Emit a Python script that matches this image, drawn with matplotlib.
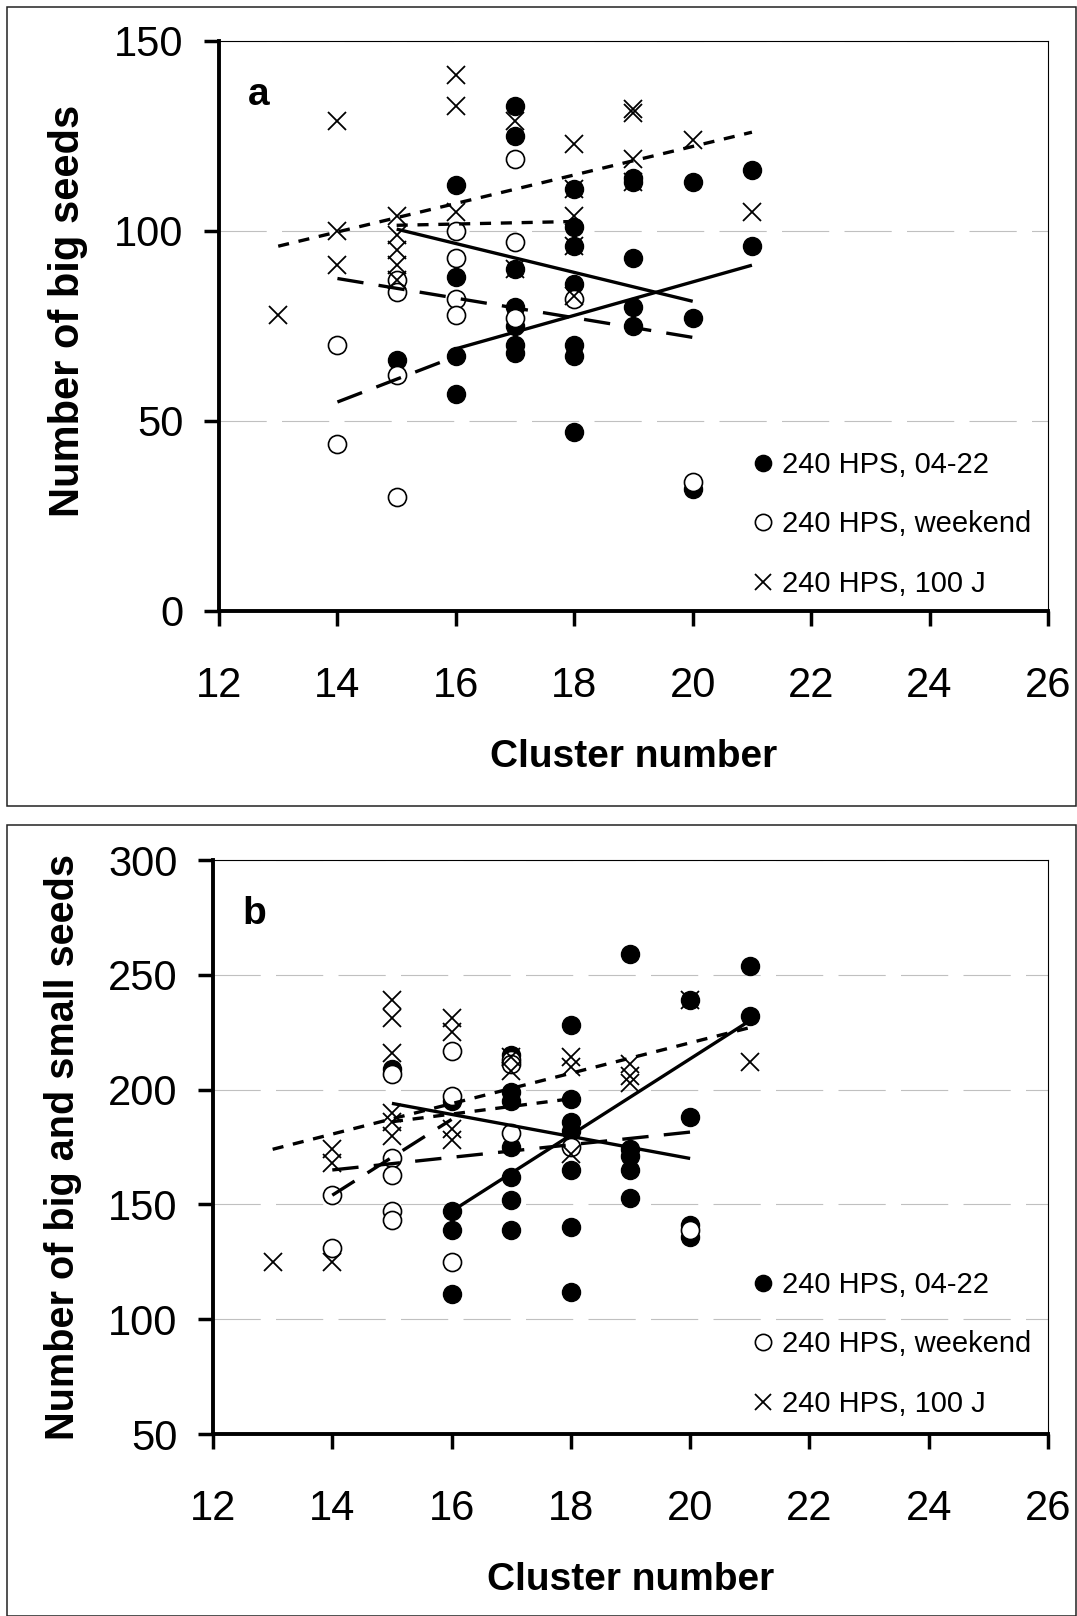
import matplotlib.pyplot as plt
from matplotlib.patches import Rectangle

plt.rcParams['font.family'] = ['Liberation Sans', 'DejaVu Sans']
plt.rcParams['lines.scale_dashes'] = False

series_labels = ['240 HPS, 04-22', '240 HPS, weekend', '240 HPS, 100 J']

# panel a - number of big seeds
a_x_0422 = [15, 16, 16, 16, 16, 17, 17, 17, 17, 17, 17, 17, 18, 18, 18, 18, 18, 18, 18,
            19, 19, 19, 19, 19, 20, 20, 20, 21, 21]
a_y_0422 = [66, 112, 88, 67, 57, 133, 125, 90, 80, 75, 70, 68, 111, 101, 96, 86, 70, 67, 47,
            114, 113, 93, 80, 75, 113, 77, 32, 116, 96]
a_x_weekend = [14, 14, 15, 15, 15, 15, 16, 16, 16, 16, 17, 17, 17, 18, 20]
a_y_weekend = [70, 44, 87, 84, 62, 30, 100, 93, 82, 78, 119, 97, 77, 82, 34]
a_x_100j = [13, 14, 14, 14, 15, 15, 15, 15, 15, 16, 16, 16, 17, 17, 18, 18, 18, 18, 18,
            19, 19, 19, 19, 20, 21]
a_y_100j = [78, 129, 100, 91, 104, 99, 95, 91, 87, 141, 133, 105, 129, 90, 123, 111, 104, 96, 83,
            132, 131, 119, 113, 124, 105]

# panel b - number of big and small seeds
b_x_0422 = [15, 16, 16, 16, 16, 17, 17, 17, 17, 17, 17, 17, 18, 18, 18, 18, 18, 18, 18,
            19, 19, 19, 19, 19, 20, 20, 20, 20, 21, 21]
b_y_0422 = [209, 195, 147, 139, 111, 215, 199, 195, 175, 162, 152, 139, 228, 196, 186, 182, 165, 140, 112,
            259, 174, 171, 165, 153, 239, 188, 141, 136, 254, 232]
b_x_weekend = [14, 14, 15, 15, 15, 15, 15, 16, 16, 16, 17, 17, 17, 18, 20]
b_y_weekend = [154, 131, 207, 170, 163, 147, 143, 217, 197, 125, 213, 211, 181, 175, 139]
b_x_100j = [13, 14, 14, 14, 15, 15, 15, 15, 15, 15, 16, 16, 16, 16, 17, 17, 18, 18, 18,
            19, 19, 19, 20, 21]
b_y_100j = [125, 174, 168, 125, 239, 231, 216, 190, 186, 180, 231, 225, 183, 178, 214, 208, 214, 210, 172,
            211, 206, 203, 239, 212]

# trend lines (start / end cluster, value at start / end)
trend_x0 = [16, 15, 14, 14, 13, 15]
trend_x1 = [21, 20, 20, 16, 21, 18]
a_trend_y0 = [69, 100.5, 87.5, 55, 96, 101.5]
a_trend_y1 = [91, 81.5, 72, 67, 126, 102.5]
b_trend_y0 = [147, 194, 165, 154, 174, 186]
b_trend_y1 = [230, 170, 181.5, 187, 227, 196]

long_dash = (0, (19, 11))
short_dash = (0, (8, 7))
trend_styles = ['-', '-', long_dash, long_dash, short_dash, short_dash]

W, H = 1077, 1616
fig = plt.figure(figsize=(W / 100, H / 100), dpi=100)

# outer frames of both panels
fig.add_artist(Rectangle((7 / W, 1 - 806 / H), (1075.5 - 7) / W, (806 - 7) / H,
                         transform=fig.transFigure, fill=False, lw=1.1, ec='#222222'))
fig.add_artist(Rectangle((7 / W, 0.5 / H), (1075.5 - 7) / W, (1615.5 - 825) / H,
                         transform=fig.transFigure, fill=False, lw=1.1, ec='#222222'))

ax_a = fig.add_axes([219 / W, 1 - 611 / H, (1048 - 219) / W, (611 - 41) / H])
ax_b = fig.add_axes([213 / W, 1 - 1434 / H, (1048 - 213) / W, (1434 - 860) / H])


def draw_panel(ax, xf, yf, xw, yw, xc, yc, ty0, ty1):
    h1, = ax.plot(xf, yf, 'o', ms=13, color='black', ls='none', zorder=3)
    h2, = ax.plot(xw, yw, 'o', ms=13, mfc='white', mec='black', mew=1.2, ls='none', zorder=4)
    h3, = ax.plot(xc, yc, 'x', ms=13, mec='black', mew=1.3, ls='none', zorder=5)
    for x0, x1, y0, y1, st in zip(trend_x0, trend_x1, ty0, ty1, trend_styles):
        ax.plot([x0, x1], [y0, y1], color='black', lw=2.4, ls=st, zorder=6,
                solid_capstyle='butt', dash_capstyle='butt')
    return [h1, h2, h3]


def style_panel(ax, handles, ylim, ylabel, ylabel_size, ylabel_y, tag, leg_anchor):
    ax.set_xlim(12, 26)
    ax.set_xticks(range(12, 27, 2))
    ax.set_ylim(*ylim)
    ax.set_yticks(range(ylim[0], ylim[1] + 1, 50))
    for s in ['left', 'bottom']:
        ax.spines[s].set_linewidth(2.8)
    for s in ['top', 'right']:
        ax.spines[s].set_linewidth(0.8)
    ax.tick_params(labelsize=30, width=2.5, length=10.5, direction='out')
    ax.tick_params(axis='x', pad=29)
    ax.tick_params(axis='y', pad=15)
    ax.yaxis.grid(True, color='#c0c0c0', lw=0.8, linestyle=(0, (34, 11)))
    ax.set_axisbelow(True)
    ax.set_xlabel('Cluster number', fontsize=28, fontweight='bold', labelpad=24)
    ax.set_ylabel(ylabel, fontsize=ylabel_size, fontweight='bold', labelpad=19)
    ax.yaxis.label.set_y(ylabel_y)
    ax.text(0.035, 0.888, tag, transform=ax.transAxes, fontsize=28, fontweight='bold', va='baseline')
    ax.legend(handles, series_labels, loc='upper left', bbox_to_anchor=leg_anchor, frameon=False,
              fontsize=21, handlelength=1.0, handletextpad=0.15, labelspacing=1.08,
              borderpad=0, borderaxespad=0, markerscale=0.9)


hs = draw_panel(ax_a, a_x_0422, a_y_0422, a_x_weekend, a_y_weekend, a_x_100j, a_y_100j,
                a_trend_y0, a_trend_y1)
style_panel(ax_a, hs, (0, 150), 'Number of big seeds', 30, 0.527, 'a', (0.639, 0.281))

hs = draw_panel(ax_b, b_x_0422, b_y_0422, b_x_weekend, b_y_weekend, b_x_100j, b_y_100j,
                b_trend_y0, b_trend_y1)
style_panel(ax_b, hs, (50, 300), 'Number of big and small seeds', 28.5, 0.5, 'b', (0.641, 0.284))

fig.savefig('out.png', dpi=100)
